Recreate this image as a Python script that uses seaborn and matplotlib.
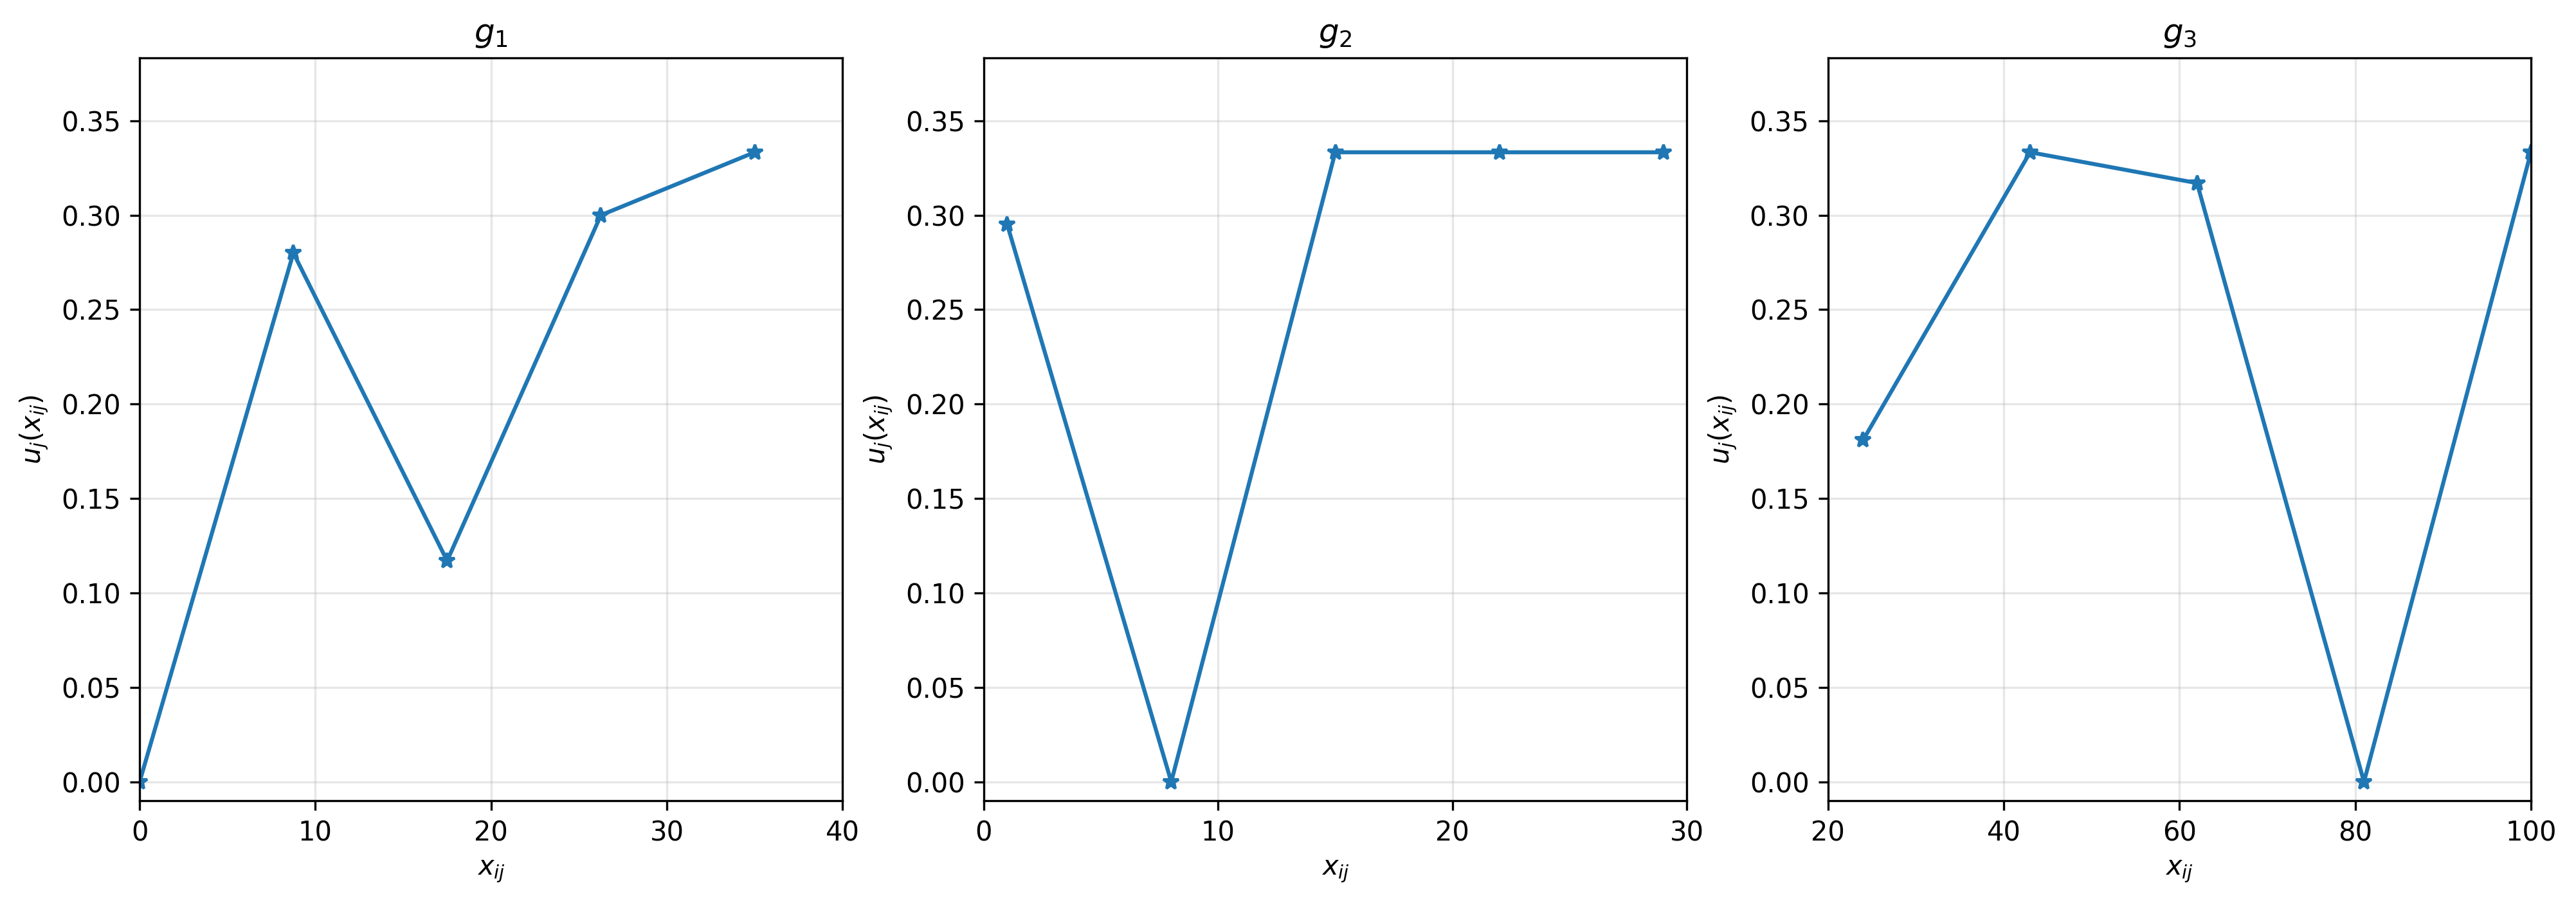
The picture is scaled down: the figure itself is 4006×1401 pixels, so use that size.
import matplotlib
matplotlib.use("Agg")
import matplotlib.pyplot as plt
from matplotlib.ticker import MultipleLocator
import seaborn as sns
import pandas as pd

titles = ["$g_1$", "$g_2$", "$g_3$"]
g1_x = [0, 8.75, 17.5, 26.25, 35]
g1_y = [0.0, 0.28, 0.117, 0.30, 0.3333]
g2_x = [1, 8, 15, 22, 29]
g2_y = [0.295, 0.0, 0.3333, 0.3333, 0.3333]
g3_x = [24, 43, 62, 81, 100]
g3_y = [0.181, 0.3333, 0.317, 0.0, 0.3333]
xlims = [(0, 40), (0, 30), (20, 100)]
xsteps = [10, 10, 20]

series = [(g1_x, g1_y), (g2_x, g2_y), (g3_x, g3_y)]
ymax = max(max(g1_y), max(g2_y), max(g3_y))

fig, axes = plt.subplots(1, 3, figsize=(4006 / 300, 1401 / 300), dpi=300)
fig.subplots_adjust(left=0.0542, right=0.9825, top=0.9358, bottom=0.1113, wspace=0.201)

for ax, (xs, ys), title, xl, st in zip(axes, series, titles, xlims, xsteps):
    df = pd.DataFrame({"x": xs, "y": ys})
    sns.lineplot(data=df, x="x", y="y", ax=ax, marker="*", color="#1f77b4",
                 markeredgecolor="#1f77b4", markeredgewidth=1, markersize=6,
                 linewidth=1.5)
    ax.set_title(title, fontsize=12)
    ax.set_xlabel("$x_{ij}$")
    ax.set_ylabel("$u_j(x_{ij})$")
    ax.set_xlim(*xl)
    ax.xaxis.set_major_locator(MultipleLocator(st))
    ax.set_ylim(-0.01, ymax * 1.15)
    ax.grid(True, alpha=0.3)

fig.savefig("out.png", dpi=300)
